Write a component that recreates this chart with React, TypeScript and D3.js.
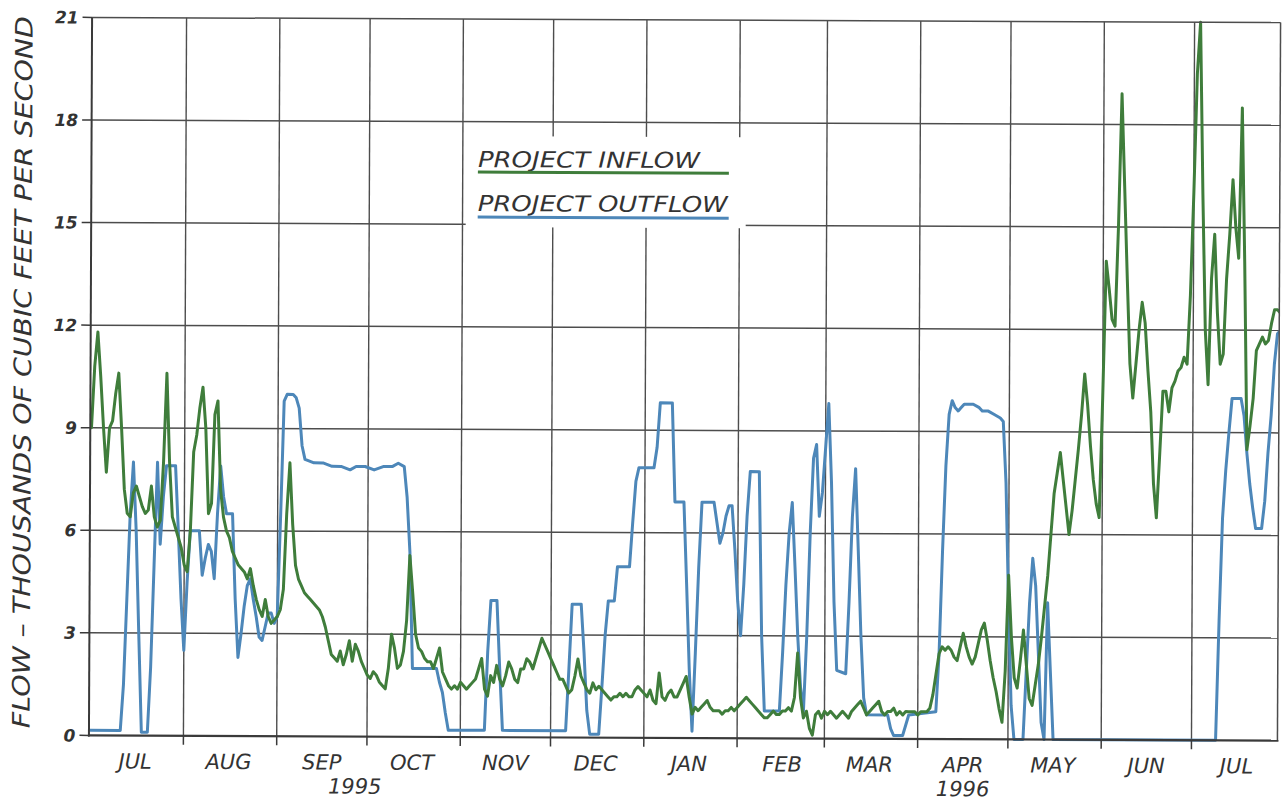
import React from "react";
import * as d3 from "d3";

// ---- Data (thousands of cfs), daily from 1 Jul 1995 ----
const START_UTC = Date.UTC(1995, 6, 1);
const END_UTC = Date.UTC(1996, 6, 30);

// Project inflow: one value per day starting 1 Jul 1995
const inflowValues = [
  9.0, 10.8, 11.8, 10.5, 9.0, 7.7, 9.0, 9.2, 10.0, 10.6,
  9.0, 7.2, 6.5, 6.4, 7.1, 7.3, 7.0, 6.7, 6.5, 6.6,
  7.3, 6.4, 6.1, 6.3, 8.0, 10.6, 8.0, 6.4, 6.1, 5.8,
  5.5, 5.0, 4.8, 6.0, 8.3, 8.8, 9.6, 10.2, 9.0, 6.5,
  6.8, 9.4, 9.8, 7.2, 6.4, 6.0, 5.8, 5.4, 5.2, 5.0,
  4.9, 4.8, 4.6, 4.9, 4.4, 4.0, 3.7, 3.5, 4.0, 3.5,
  3.3, 3.4, 3.5, 3.7, 4.3, 6.5, 8.0, 6.2, 5.0, 4.6,
  4.4, 4.2, 4.1, 4.0, 3.9, 3.8, 3.7, 3.5, 3.2, 2.8,
  2.4, 2.3, 2.2, 2.5, 2.1, 2.4, 2.8, 2.2, 2.7, 2.5,
  2.2, 2.0, 1.8, 1.7, 1.9, 1.8, 1.6, 1.5, 1.4, 2.0,
  3.0, 2.6, 2.0, 2.1, 2.5, 3.4, 5.3, 4.2, 3.0, 2.6,
  2.5, 2.3, 2.2, 2.2, 2.0, 2.3, 2.6, 1.9, 1.7, 1.5,
  1.4, 1.5, 1.4, 1.6, 1.5, 1.4, 1.5, 1.6, 1.7, 2.0,
  2.3, 1.4, 1.2, 1.8, 1.6, 2.1, 1.7, 1.5, 1.8, 2.2,
  2.0, 1.7, 1.6, 2.0, 2.0, 2.3, 2.2, 2.0, 2.3, 2.6,
  2.9, 2.7, 2.5, 2.3, 2.1, 1.9, 1.7, 1.7, 1.5, 1.3,
  1.4, 1.8, 2.3, 1.8, 1.6, 1.4, 1.3, 1.6, 1.4, 1.5,
  1.4, 1.3, 1.2, 1.1, 1.2, 1.2, 1.3, 1.2, 1.3, 1.2,
  1.2, 1.4, 1.5, 1.4, 1.3, 1.2, 1.4, 1.1, 1.0, 1.9,
  1.2, 1.1, 1.3, 1.4, 1.2, 1.2, 1.4, 1.6, 1.8, 1.2,
  0.7, 0.9, 0.8, 0.9, 1.0, 1.1, 0.9, 0.8, 0.8, 0.8,
  0.7, 0.8, 0.8, 0.9, 0.8, 0.9, 1.0, 1.1, 1.2, 1.1,
  1.0, 0.9, 0.8, 0.7, 0.6, 0.6, 0.7, 0.8, 0.7, 0.7,
  0.8, 0.8, 0.9, 0.8, 1.2, 2.5, 1.2, 0.6, 0.8, 0.3,
  0.1, 0.7, 0.8, 0.6, 0.8, 0.7, 0.8, 0.7, 0.6, 0.7,
  0.8, 0.7, 0.6, 0.8, 0.9, 1.0, 1.1, 0.9, 0.7, 0.8,
  0.9, 1.0, 1.1, 0.8, 0.7, 0.8, 0.8, 0.9, 0.7, 0.8,
  0.7, 0.8, 0.8, 0.8, 0.8, 0.7, 0.8, 0.8, 0.8, 0.9,
  1.3, 1.9, 2.5, 2.7, 2.6, 2.7, 2.6, 2.4, 2.3, 2.7,
  3.1, 2.7, 2.4, 2.2, 2.4, 2.8, 3.2, 3.4, 2.9, 2.3,
  1.8, 1.4, 0.9, 0.5, 2.0, 4.8, 3.0, 1.8, 1.5, 2.3,
  3.2, 2.2, 1.2, 1.0, 1.6, 2.2, 3.0, 3.9, 4.8, 6.0,
  7.2, 7.8, 8.4, 7.6, 6.8, 6.0, 6.7, 7.6, 8.5, 9.5,
  10.7, 9.8, 8.6, 7.6, 6.9, 6.5, 10.0, 14.0, 13.2, 12.3,
  12.1, 15.0, 18.9, 16.2, 13.5, 11.0, 10.0, 11.0, 12.0, 12.8,
  12.2, 10.8, 9.6, 7.5, 6.5, 8.3, 10.2, 10.2, 9.6, 10.3,
  10.5, 10.8, 10.9, 11.2, 11.0, 13.0, 16.0, 19.5, 21.0, 16.0,
  12.0, 10.4, 13.5, 14.8, 12.5, 11.0, 11.3, 13.5, 14.8, 16.4,
  15.0, 14.1, 18.5, 14.0, 8.5, 9.2, 10.0, 11.4, 11.6, 11.8,
  11.6, 11.7, 12.2, 12.6, 12.6, 12.5,
];

// Project outflow: day offsets from 1 Jul 1995 and values
const outflowDays = [
  0, 10, 11, 12, 13, 14, 15, 16, 17, 19, 20, 21, 22, 23, 24, 25, 28, 29, 30, 31,
  32, 33, 36, 37, 38, 39, 40, 41, 42, 43, 44, 45, 47, 48, 49, 50, 51, 52, 53, 54,
  55, 56, 57, 58, 59, 60, 61, 62, 63, 64, 65, 67, 68, 69, 70, 71, 74, 77, 80, 83,
  86, 88, 91, 94, 97, 100, 102, 104, 105, 106, 107, 115, 116, 117, 118, 119, 131, 132, 133, 135,
  136, 137, 158, 159, 160, 163, 164, 165, 166, 169, 170, 171, 172, 174, 175, 179, 180, 181, 182, 187,
  188, 189, 193, 194, 197, 198, 199, 200, 201, 202, 203, 207, 208, 209, 210, 211, 212, 213, 214, 215,
  216, 217, 218, 219, 222, 223, 224, 229, 230, 231, 232, 233, 234, 235, 236, 237, 238, 239, 240, 241,
  242, 243, 244, 245, 246, 247, 248, 251, 252, 253, 254, 255, 256, 257, 258, 265, 266, 267, 270, 271,
  272, 281, 282, 283, 284, 285, 286, 287, 288, 289, 290, 293, 295, 296, 298, 300, 302, 303, 304, 305,
  306, 307, 310, 311, 312, 313, 314, 315, 316, 317, 318, 319, 320, 374, 375, 376, 377, 378, 379, 382,
  383, 384, 385, 386, 387, 389, 390, 391, 392, 393, 394, 395,
];
const outflowValues = [
  0.15, 0.15, 1.5, 4.0, 6.5, 8.0, 6.0, 3.0, 0.1, 0.1, 2.0, 5.0, 8.0, 5.6, 7.0, 7.9, 7.9, 6.0, 4.0, 2.5,
  4.5, 6.0, 6.0, 4.7, 5.2, 5.6, 5.4, 4.6, 6.5, 7.9, 7.0, 6.5, 6.5, 4.0, 2.3, 3.0, 3.8, 4.4, 4.6, 4.0,
  3.5, 2.9, 2.8, 3.2, 3.6, 3.6, 3.3, 3.5, 6.5, 9.8, 10.0, 10.0, 9.9, 9.6, 8.5, 8.1, 8.0, 8.0, 7.9, 7.9,
  7.8, 7.9, 7.9, 7.8, 7.9, 7.9, 8.0, 7.9, 7.0, 5.4, 2.0, 2.0, 1.6, 1.3, 0.7, 0.2, 0.2, 2.5, 4.0, 4.0,
  2.0, 0.2, 0.2, 2.0, 3.9, 3.9, 2.5, 0.8, 0.1, 0.1, 1.5, 3.0, 4.0, 4.0, 5.0, 5.0, 6.3, 7.5, 7.9, 7.9,
  8.5, 9.8, 9.8, 6.9, 6.9, 4.5, 2.0, 0.2, 2.5, 5.0, 6.9, 6.9, 6.3, 5.7, 6.0, 6.5, 6.8, 6.8, 5.5, 4.0,
  3.0, 4.5, 6.5, 7.8, 7.8, 3.0, 0.8, 0.8, 2.5, 4.5, 6.0, 6.9, 5.0, 3.0, 1.5, 0.8, 3.0, 6.0, 8.2, 8.6,
  6.5, 7.2, 8.5, 9.8, 7.5, 4.0, 2.0, 1.9, 4.0, 6.5, 7.9, 5.5, 3.0, 1.2, 0.7, 0.7, 0.3, 0.1, 0.1, 0.4,
  0.7, 0.8, 2.5, 5.5, 8.0, 9.5, 9.9, 9.7, 9.6, 9.7, 9.8, 9.8, 9.7, 9.6, 9.6, 9.5, 9.4, 9.3, 7.5, 4.0,
  1.0, 0.0, 0.0, 2.0, 4.0, 5.3, 4.5, 2.5, 0.5, 0.0, 4.0, 2.0, 0.0, 0.0, 3.5, 6.5, 7.9, 9.0, 10.0, 10.0,
  9.5, 8.4, 7.5, 6.8, 6.2, 6.2, 7.0, 8.4, 9.5, 11.0, 11.9, 12.0,
];

const yTickValues = [0, 3, 6, 9, 12, 15, 18, 21];
const monthLabels = ["JUL", "AUG", "SEP", "OCT", "NOV", "DEC", "JAN", "FEB", "MAR", "APR", "MAY", "JUN", "JUL"];
const yearLabels = ["1995", "1996"];
const yearLabelDates = [Date.UTC(1995, 8, 27), Date.UTC(1996, 3, 16)];
const seriesNames = ["PROJECT INFLOW", "PROJECT OUTFLOW"];
const yTitle = "FLOW \u2013 THOUSANDS OF CUBIC FEET PER SECOND";

const DAY = 86400000;
const GREEN = "#3f7d3b";
const BLUE = "#4d87b9";
const GRID = "#4d4d4d";
const FONT = "'DejaVu Sans', sans-serif";

export default function App() {
  const left = 90.5;
  const right = 1279;
  const top = 20;
  const bottom = 738;

  const x = d3.scaleUtc().domain([new Date(START_UTC), new Date(END_UTC)]).range([91.7, 1280.3]);
  const y = d3.scaleLinear().domain([0, 21]).range([bottom, top]);

  const inflow = inflowValues.map((v, i) => ({ t: new Date(START_UTC + i * DAY), v }));
  const outflow = outflowDays.map((d, i) => ({ t: new Date(START_UTC + d * DAY), v: outflowValues[i] }));

  const line = d3
    .line<{ t: Date; v: number }>()
    .x((d) => x(d.t))
    .y((d) => y(d.v));

  const monthBounds = d3.utcMonths(new Date(Date.UTC(1995, 7, 1)), new Date(Date.UTC(1996, 6, 2)));
  const monthMids = monthLabels.map((_, i) => new Date(Date.UTC(1995, 6 + i, 16)));

  const legendX = 477;
  const legendLineEnd = 728;

  return (
    <svg
      width={1284}
      height={801}
      style={{ position: "absolute", left: 0, top: 0, background: "#ffffff" }}
      fontFamily={FONT}
    >
      <rect x={0} y={0} width={1284} height={801} fill="#ffffff" />
      <defs>
        <clipPath id="plotClip">
          <rect x={left} y={top - 4} width={right - left} height={bottom - top + 8} />
        </clipPath>
      </defs>
      <g transform="rotate(0.25, 684, 380)">
        {/* horizontal grid */}
        {yTickValues
          .filter((v) => v > 0 && v < 21)
          .map((v) => (
            <line key={"hg" + v} x1={left} x2={right} y1={y(v)} y2={y(v)} stroke={GRID} strokeWidth={1.5} />
          ))}
        {/* vertical grid */}
        {monthBounds.map((m, i) => (
          <line key={"vg" + i} x1={x(m)} x2={x(m)} y1={top} y2={bottom} stroke={GRID} strokeWidth={1.4} />
        ))}
        {/* legend background */}
        <rect x={465} y={137} width={280} height={91} fill="#ffffff" />

        {/* series */}
        <g clipPath="url(#plotClip)">
          <path d={line(outflow) || ""} fill="none" stroke={BLUE} strokeWidth={3} strokeLinejoin="round" strokeLinecap="round" />
          <path d={line(inflow) || ""} fill="none" stroke={GREEN} strokeWidth={3} strokeLinejoin="round" strokeLinecap="round" />
        </g>

        {/* frame */}
        <line x1={left} x2={right} y1={top} y2={top} stroke={GRID} strokeWidth={1.5} />
        <line x1={right} x2={right} y1={top} y2={bottom} stroke={GRID} strokeWidth={1.5} />
        <line x1={left} x2={left} y1={top} y2={bottom + 1} stroke="#3a3a3a" strokeWidth={2} />
        <line x1={left - 1} x2={right + 1} y1={bottom} y2={bottom} stroke="#3a3a3a" strokeWidth={2.2} />

        {/* y ticks */}
        {yTickValues.map((v) => (
          <g key={"yt" + v}>
            <line x1={81} x2={left} y1={y(v)} y2={y(v)} stroke="#3a3a3a" strokeWidth={1.5} />
            <text
              x={77}
              y={y(v)}
              dy="0.36em"
              textAnchor="end"
              fontSize={17}
              fontStyle="italic"
              fontWeight="bold"
              fill="#333"
            >
              {v}
            </text>
          </g>
        ))}

        {/* x ticks */}
        {monthBounds.map((m, i) => (
          <line key={"xt" + i} x1={x(m)} x2={x(m)} y1={bottom} y2={bottom + 9} stroke="#3a3a3a" strokeWidth={1.5} />
        ))}
        {monthLabels.map((lab, i) => (
          <text
            key={"ml" + i}
            x={x(monthMids[i])}
            y={771}
            textAnchor="middle"
            fontSize={21}
            fontStyle="italic"
            fill="#333"
          >
            {lab}
          </text>
        ))}
        {yearLabels.map((lab, i) => (
          <text
            key={"yl" + i}
            x={x(new Date(yearLabelDates[i]))}
            y={795}
            textAnchor="middle"
            fontSize={21}
            fontStyle="italic"
            fill="#333"
          >
            {lab}
          </text>
        ))}

        {/* y axis title */}
        <text
          transform={`translate(31, ${375}) rotate(-90)`}
          textAnchor="middle"
          fontSize={24}
          fontStyle="italic"
          fill="#333"
          textLength={712}
          lengthAdjust="spacingAndGlyphs"
        >
          {yTitle}
        </text>

        {/* legend */}
        <text x={legendX} y={168} fontSize={22} fontStyle="italic" fill="#333" textLength={222} lengthAdjust="spacingAndGlyphs">
          {seriesNames[0]}
        </text>
        <line x1={legendX} x2={legendLineEnd} y1={173} y2={173} stroke={GREEN} strokeWidth={3} />
        <text x={legendX} y={212} fontSize={22} fontStyle="italic" fill="#333" textLength={250} lengthAdjust="spacingAndGlyphs">
          {seriesNames[1]}
        </text>
        <line x1={legendX} x2={legendLineEnd} y1={218} y2={218} stroke={BLUE} strokeWidth={3} />
      </g>
    </svg>
  );
}
